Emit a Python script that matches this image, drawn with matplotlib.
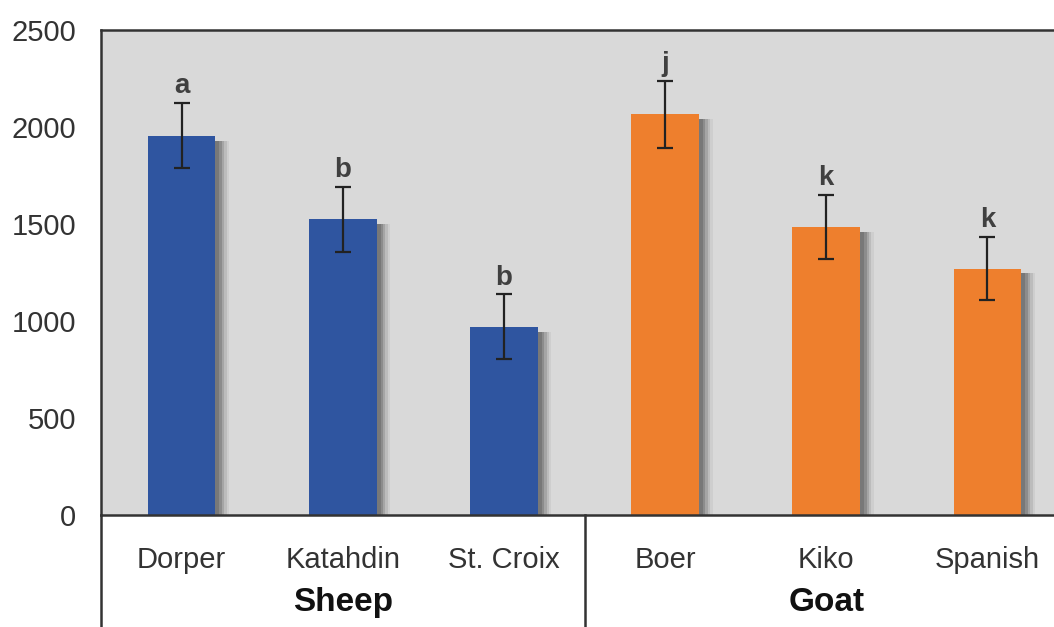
import numpy as np
import matplotlib.pyplot as plt

plt.rcParams['font.family'] = ['Liberation Sans', 'DejaVu Sans']

# data
breeds = ['Dorper', 'Katahdin', 'St. Croix', 'Boer', 'Kiko', 'Spanish']
species = ['Sheep', 'Goat']
means = [1955, 1525, 970, 2065, 1485, 1270]
errors = [168, 167, 167, 172, 165, 163]
letters = ['a', 'b', 'b', 'j', 'k', 'k']
bar_colors = ['#2f55a0'] * 3 + ['#ee7f2d'] * 3

fig = plt.figure(figsize=(10.54, 6.27), dpi=100)
ax = fig.add_axes([101 / 1054, 112 / 627, 967 / 1054, 485 / 627])
ax.set_facecolor('#d9d9d9')

x = np.arange(len(breeds))
w = 0.42

# soft shadow to the right of each bar
for off, a in [(0.085, 0.08), (0.07, 0.14), (0.055, 0.22), (0.04, 0.30), (0.025, 0.35)]:
    ax.bar(x + off, np.array(means) - 25, width=w, color='#555555', alpha=a,
           zorder=1, linewidth=0)

ax.bar(x, means, width=w, color=bar_colors, zorder=2, linewidth=0)
ax.errorbar(x, means, yerr=errors, fmt='none', ecolor='#222222', elinewidth=1.6,
            capsize=6, capthick=1.6, zorder=3)

for xi, m, e, t in zip(x, means, errors, letters):
    ax.annotate(t, (xi, m + e), xytext=(0, 7), textcoords='offset points',
                ha='center', va='baseline', fontsize=20, fontweight='bold',
                color='#404040')

ax.set_xlim(-0.5, 5.5)
ax.set_ylim(0, 2500)
ax.set_yticks([0, 500, 1000, 1500, 2000, 2500])
ax.tick_params(axis='y', length=0, pad=18, labelsize=21, labelcolor='#333333')
ax.set_xticks(x)
ax.set_xticklabels(breeds)
ax.tick_params(axis='x', length=0, pad=22, labelsize=21, labelcolor='#333333')

for s in ['top', 'left', 'bottom']:
    ax.spines[s].set_color('#333333')
    ax.spines[s].set_linewidth(1.8)
ax.spines['right'].set_visible(False)

# group dividers below the axis
trans = ax.get_xaxis_transform()
for xv in [-0.5, 2.5]:
    ax.plot([xv, xv], [0, -0.25], transform=trans, color='#333333', lw=1.8,
            clip_on=False)

for xc, name in zip([1, 4], species):
    ax.text(xc, -0.18, name, transform=trans, ha='center', va='center',
            fontsize=24, fontweight='bold', color='#111111')

fig.savefig('out.png', dpi=100)
